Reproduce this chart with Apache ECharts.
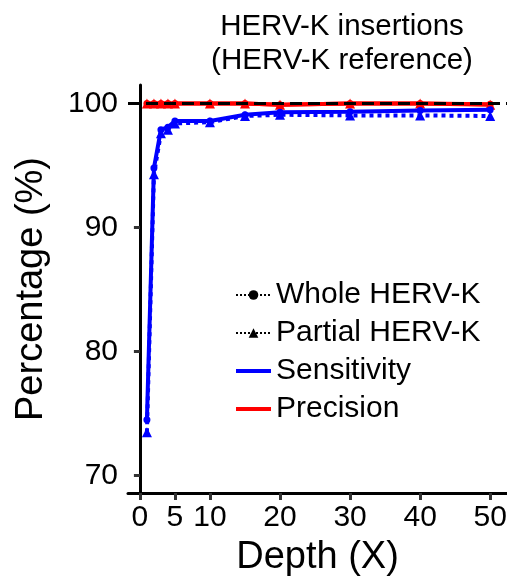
<!DOCTYPE html>
<html>
<head>
<meta charset="utf-8">
<script src="https://cdn.jsdelivr.net/npm/echarts@6/dist/echarts.min.js"></script>
<style>
  html, body { margin: 0; padding: 0; background: #fff; }
  #chart { width: 507px; height: 584px; }
</style>
</head>
<body>
<div id="chart"></div>
<script>
  // depth values (X)
  const depths = [1, 2, 3, 4, 5, 10, 15, 20, 30, 40, 50]
  // sensitivity (%)
  const wholeSens = [74.5, 94.8, 97.9, 98.1, 98.6, 98.6, 99.1, 99.3, 99.35, 99.45, 99.5]
  const partialSens = [73.5, 94.3, 97.6, 97.9, 98.4, 98.5, 99.0, 99.1, 99.05, 99.05, 99.0]
  // precision (%)
  const wholePrec = [100, 100, 100, 100, 100, 100, 100, 99.9, 100, 100, 99.95]
  const partialPrec = [100, 100, 100, 100, 100, 100, 100, 99.9, 100, 100, 99.9]
  // axis ticks
  const xTicks = [0, 5, 10, 20, 30, 40, 50]
  const yTicks = [70, 80, 90, 100]

  const font = 'Liberation Sans, Arial, sans-serif'
  const pair = (ys) => depths.map((d, i) => [d, ys[i]])

  let myChart = echarts.init(document.getElementById('chart'))
  myChart.setOption({
    animation: false,
    title: {
      text: 'HERV-K insertions\n(HERV-K reference)',
      left: 337,
      top: 5,
      textAlign: 'center',
      textStyle: {
        fontFamily: font,
        fontSize: 29.5,
        fontWeight: 'normal',
        lineHeight: 34,
        color: '#000'
      }
    },
    legend: {
      orient: 'vertical',
      left: 234,
      top: 280,
      padding: 0,
      itemWidth: 35,
      itemHeight: 12,
      itemGap: 8,
      data: [
        'Whole HERV-K',
        'Partial HERV-K',
        { name: 'Sensitivity', itemStyle: { opacity: 0 }, lineStyle: { width: 4 } },
        { name: 'Precision', itemStyle: { opacity: 0 }, lineStyle: { width: 4 } }
      ],
      textStyle: {
        fontFamily: font,
        fontSize: 30,
        color: '#000'
      }
    },
    grid: {
      left: 128,
      right: 0,
      top: 85,
      bottom: 91,
      outerBoundsMode: 'none'
    },
    xAxis: {
      type: 'value',
      min: -1.7,
      max: 52.4,
      name: 'Depth (X)',
      nameLocation: 'middle',
      nameGap: 46,
      nameTextStyle: { fontFamily: font, fontSize: 38, color: '#000' },
      axisLine: { lineStyle: { color: '#000', width: 3 } },
      axisTick: { customValues: xTicks, length: 7, lineStyle: { color: '#333', width: 3 } },
      axisLabel: { customValues: xTicks, margin: 10, fontFamily: font, fontSize: 30, color: '#000' },
      splitLine: { show: false }
    },
    yAxis: {
      type: 'value',
      min: 68.6,
      max: 101.5,
      name: 'Percentage (%)',
      nameLocation: 'middle',
      nameGap: 77,
      nameTextStyle: { fontFamily: font, fontSize: 38, color: '#000' },
      axisLine: { show: true, lineStyle: { color: '#000', width: 3 } },
      axisTick: { show: true, customValues: yTicks, length: 6, lineStyle: { color: '#333', width: 3 } },
      axisLabel: { customValues: yTicks, margin: 10, fontFamily: font, fontSize: 30, color: '#000' },
      splitLine: { show: false }
    },
    series: [
      // legend-only entries
      {
        name: 'Whole HERV-K', type: 'line', data: [],
        symbol: 'circle', symbolSize: 6,
        itemStyle: { color: '#000' },
        lineStyle: { color: '#000', type: 'dotted', width: 3 }
      },
      {
        name: 'Partial HERV-K', type: 'line', data: [],
        symbol: 'triangle', symbolSize: 9,
        itemStyle: { color: '#000' },
        lineStyle: { color: '#000', type: 'dotted', width: 3 }
      },
      {
        name: 'Sensitivity', type: 'line', data: [], symbol: 'none',
        itemStyle: { color: '#0000ff' },
        lineStyle: { color: '#0000ff', width: 4 }
      },
      {
        name: 'Precision', type: 'line', data: [], symbol: 'none',
        itemStyle: { color: '#ff0000' },
        lineStyle: { color: '#ff0000', width: 4 }
      },
      // reference line at 100 %
      {
        name: 'ref', type: 'line', data: [], z: 1,
        markLine: {
          silent: true,
          symbol: 'none',
          label: { show: false },
          lineStyle: { color: '#000', type: 'dashed', width: 3 },
          data: [{ yAxis: 100 }]
        }
      },
      {
        name: 'wholeSens', type: 'line', data: pair(wholeSens), z: 3,
        symbol: 'circle', symbolSize: 7, clip: false,
        itemStyle: { color: '#0000ff' },
        lineStyle: { color: '#0000ff', width: 4 }
      },
      {
        name: 'partialSens', type: 'line', data: pair(partialSens), z: 3,
        symbol: 'triangle', symbolSize: 10, clip: false,
        itemStyle: { color: '#0000ff' },
        lineStyle: { color: '#0000ff', type: 'dotted', width: 4 }
      },
      {
        name: 'wholePrec', type: 'line', data: pair(wholePrec), z: 2,
        symbol: 'circle', symbolSize: 7, clip: false,
        itemStyle: { color: '#ff0000' },
        lineStyle: { color: '#ff0000', width: 4 }
      },
      {
        name: 'partialPrec', type: 'line', data: pair(partialPrec), z: 2,
        symbol: 'triangle', symbolSize: 10, clip: false,
        itemStyle: { color: '#ff0000' },
        lineStyle: { color: '#ff0000', width: 4 }
      }
    ]
  })
</script>
</body>
</html>
